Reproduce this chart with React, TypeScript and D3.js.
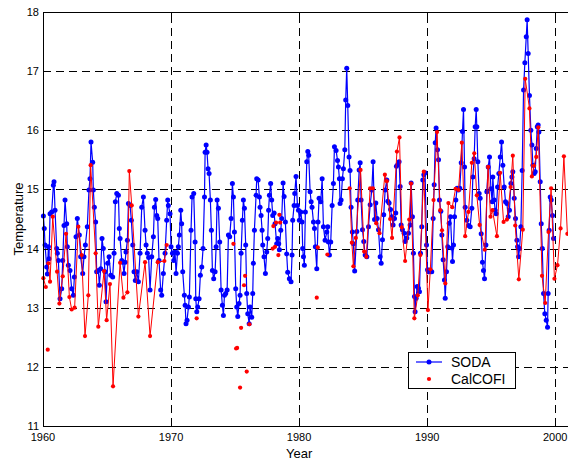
import React, { useEffect, useRef } from 'react';
import * as d3 from 'd3';

type Pt = [number, number];

// SODA model temperature, [year, degC]
const soda1960s: Pt[] = [
  [1960.03, 14.55], [1960.1, 14.34], [1960.16, 14.06], [1960.29, 13.69], [1960.34, 13.57], [1960.42, 14.03],
  [1960.47, 13.83], [1960.55, 14.59], [1960.68, 14.62], [1960.81, 15.07], [1960.86, 15.13], [1960.94, 14.65],
  [1961.07, 14.0], [1961.12, 13.92], [1961.2, 13.8], [1961.33, 13.15], [1961.46, 13.32], [1961.54, 13.8],
  [1961.64, 14.39], [1961.72, 14.82], [1961.85, 14.42], [1961.9, 14.03], [1961.98, 13.72], [1962.11, 13.63],
  [1962.24, 13.32], [1962.37, 13.21], [1962.45, 13.52], [1962.58, 14.2], [1962.68, 14.51], [1962.84, 14.23],
  [1962.94, 13.86], [1963.1, 13.58], [1963.2, 13.86], [1963.31, 14.06], [1963.46, 14.37], [1963.59, 14.99],
  [1963.67, 15.18], [1963.75, 15.8], [1963.88, 15.46], [1963.93, 14.99], [1964.01, 14.7], [1964.11, 14.45],
  [1964.19, 13.61], [1964.32, 13.63], [1964.4, 13.38], [1964.51, 13.66], [1964.61, 14.17], [1964.71, 14.0],
  [1964.84, 13.61], [1964.92, 13.1], [1965.05, 13.75], [1965.16, 13.86], [1965.29, 13.55], [1965.44, 13.52],
  [1965.55, 13.92], [1965.65, 14.79], [1965.76, 14.93], [1965.89, 14.9], [1965.96, 14.34], [1966.02, 14.17],
  [1966.15, 13.8], [1966.22, 13.77], [1966.33, 13.58], [1966.41, 13.77], [1966.48, 13.94], [1966.59, 14.14],
  [1966.67, 14.76], [1966.8, 14.73], [1966.9, 14.48], [1967.01, 14.06], [1967.11, 13.61], [1967.21, 13.46],
  [1967.32, 13.61], [1967.45, 13.44], [1967.58, 13.92], [1967.71, 14.7], [1967.84, 14.87], [1967.97, 14.31],
  [1968.05, 14.06], [1968.15, 13.92], [1968.25, 13.85], [1968.36, 13.3], [1968.49, 13.86], [1968.62, 14.2],
  [1968.7, 14.7], [1968.8, 14.83], [1968.88, 14.56], [1968.96, 14.51], [1969.06, 13.8], [1969.19, 13.3],
  [1969.27, 13.21], [1969.4, 13.58], [1969.53, 13.92], [1969.66, 14.48], [1969.74, 14.82], [1969.79, 14.73],
  [1969.92, 14.59],
];

const soda1970s: Pt[] = [
  [1970.0, 14.03], [1970.11, 13.92], [1970.21, 13.8], [1970.31, 13.94], [1970.39, 13.58], [1970.5, 13.92],
  [1970.57, 14.03], [1970.65, 14.23], [1970.76, 14.65], [1970.83, 14.42], [1970.91, 13.61], [1971.04, 13.21],
  [1971.1, 13.04], [1971.17, 12.73], [1971.25, 12.79], [1971.36, 13.01], [1971.43, 13.18], [1971.56, 14.31],
  [1971.64, 14.87], [1971.77, 14.93], [1971.88, 14.11], [1971.93, 13.15], [1972.01, 12.93], [1972.08, 13.01],
  [1972.19, 13.15], [1972.29, 13.55], [1972.4, 13.69], [1972.5, 14.0], [1972.61, 14.87], [1972.66, 15.63],
  [1972.74, 15.75], [1972.81, 15.63], [1972.89, 15.35], [1972.97, 15.27], [1973.07, 14.82], [1973.15, 14.31],
  [1973.23, 13.63], [1973.33, 13.49], [1973.44, 13.61], [1973.52, 14.03], [1973.6, 14.82], [1973.7, 14.68],
  [1973.8, 14.11], [1973.91, 13.3], [1974.01, 13.04], [1974.09, 12.87], [1974.17, 13.21], [1974.27, 13.24],
  [1974.38, 13.3], [1974.48, 14.23], [1974.58, 14.2], [1974.69, 14.51], [1974.79, 15.1], [1974.87, 14.87],
  [1974.95, 14.28], [1975.05, 13.32], [1975.13, 13.01], [1975.21, 12.85], [1975.31, 13.07], [1975.39, 13.21],
  [1975.47, 13.92], [1975.57, 14.48], [1975.65, 14.82], [1975.73, 14.68], [1975.83, 14.06], [1975.91, 13.24],
  [1975.99, 12.9], [1976.1, 12.73], [1976.17, 13.01], [1976.3, 12.84], [1976.38, 13.24], [1976.43, 13.75],
  [1976.51, 14.31], [1976.64, 14.9], [1976.69, 15.18], [1976.8, 15.16], [1976.9, 14.87], [1976.95, 14.7],
  [1977.03, 14.56], [1977.11, 14.31], [1977.16, 14.06], [1977.26, 13.86], [1977.37, 13.58], [1977.47, 13.94],
  [1977.55, 14.17], [1977.62, 14.65], [1977.68, 14.9], [1977.78, 15.1], [1977.86, 14.82], [1977.94, 14.56],
  [1978.05, 14.6], [1978.12, 14.42], [1978.25, 14.08], [1978.33, 14.17], [1978.41, 14.08], [1978.46, 13.98],
  [1978.57, 14.31], [1978.64, 14.51], [1978.75, 15.11], [1978.83, 14.88], [1978.93, 14.45], [1979.03, 13.91],
  [1979.11, 13.6], [1979.24, 13.49], [1979.37, 13.44], [1979.45, 13.89], [1979.5, 14.48], [1979.61, 14.73],
  [1979.66, 14.93], [1979.76, 15.22], [1979.87, 14.73], [1979.95, 14.65],
];

const soda1980s: Pt[] = [
  [1980.02, 14.48], [1980.13, 14.62], [1980.23, 14.45], [1980.28, 14.0], [1980.34, 13.86], [1980.41, 13.72],
  [1980.49, 14.62], [1980.6, 15.47], [1980.68, 15.64], [1980.75, 15.58], [1980.86, 14.96], [1980.94, 14.79],
  [1981.01, 14.7], [1981.12, 14.45], [1981.2, 14.34], [1981.27, 14.03], [1981.38, 13.66], [1981.48, 14.45],
  [1981.56, 14.85], [1981.69, 14.79], [1981.8, 15.18], [1981.9, 14.37], [1982.03, 14.14], [1982.16, 14.28],
  [1982.24, 14.37], [1982.29, 14.11], [1982.37, 13.89], [1982.47, 14.11], [1982.58, 14.73], [1982.68, 15.1],
  [1982.76, 15.72], [1982.89, 15.66], [1983.0, 15.49], [1983.07, 15.38], [1983.15, 15.18], [1983.2, 14.76],
  [1983.28, 14.82], [1983.38, 15.18], [1983.46, 15.35], [1983.57, 15.67], [1983.64, 16.51], [1983.72, 17.05],
  [1983.8, 16.42], [1983.9, 15.55], [1983.98, 15.32], [1984.06, 14.7], [1984.16, 14.28], [1984.24, 14.08],
  [1984.34, 13.62], [1984.51, 14.29], [1984.58, 14.82], [1984.69, 15.33], [1984.77, 15.45], [1984.84, 14.82],
  [1984.95, 14.32], [1985.05, 14.12], [1985.16, 13.89], [1985.29, 13.86], [1985.42, 14.37], [1985.55, 14.74],
  [1985.68, 14.99], [1985.78, 15.47], [1985.89, 14.49], [1985.99, 14.77], [1986.09, 14.51], [1986.2, 14.32],
  [1986.33, 13.86], [1986.41, 13.75], [1986.51, 14.15], [1986.61, 14.57], [1986.72, 14.99], [1986.85, 15.16],
  [1986.93, 14.8], [1987.03, 14.77], [1987.14, 14.66], [1987.24, 14.54], [1987.34, 14.4], [1987.45, 14.51],
  [1987.55, 14.6], [1987.6, 15.39], [1987.71, 15.42], [1987.81, 15.47], [1987.89, 15.05], [1987.97, 14.4],
  [1988.07, 14.32], [1988.2, 14.26], [1988.28, 14.12], [1988.41, 14.18], [1988.54, 14.26], [1988.67, 14.4],
  [1988.75, 15.11], [1988.85, 14.54], [1988.93, 13.92], [1989.01, 13.19], [1989.06, 12.93], [1989.14, 13.16],
  [1989.22, 13.36], [1989.32, 13.33], [1989.4, 13.27], [1989.48, 13.92], [1989.58, 14.37], [1989.66, 15.16],
  [1989.74, 15.25], [1989.84, 15.28], [1989.95, 14.06],
];

const soda1990s: Pt[] = [
  [1990.03, 13.64], [1990.1, 13.61], [1990.23, 13.61], [1990.36, 13.61], [1990.47, 14.51], [1990.55, 15.08],
  [1990.63, 15.79], [1990.7, 16.04], [1990.81, 15.67], [1990.89, 15.5], [1990.96, 14.82], [1991.07, 14.63],
  [1991.15, 14.23], [1991.25, 13.81], [1991.35, 13.47], [1991.41, 13.16], [1991.51, 13.61], [1991.61, 14.03],
  [1991.72, 14.43], [1991.82, 14.54], [1991.93, 14.01], [1991.98, 13.78], [1992.06, 14.06], [1992.14, 14.54],
  [1992.24, 14.82], [1992.34, 15.02], [1992.45, 14.99], [1992.55, 15.02], [1992.66, 15.45], [1992.76, 15.98],
  [1992.84, 16.35], [1992.92, 15.38], [1992.97, 14.7], [1993.1, 14.48], [1993.23, 14.39], [1993.36, 14.37],
  [1993.49, 14.68], [1993.57, 15.21], [1993.67, 15.52], [1993.75, 16.06], [1993.83, 16.35], [1993.88, 16.06],
  [1993.96, 15.47], [1994.06, 14.93], [1994.14, 14.85], [1994.22, 14.25], [1994.32, 13.77], [1994.4, 13.63],
  [1994.48, 13.49], [1994.59, 14.06], [1994.66, 14.96], [1994.77, 15.38], [1994.87, 15.55], [1994.98, 15.01],
  [1995.08, 14.79], [1995.13, 15.21], [1995.24, 14.82], [1995.31, 14.65], [1995.39, 14.59], [1995.5, 15.04],
  [1995.6, 15.27], [1995.71, 15.55], [1995.81, 15.8], [1995.91, 15.41], [1996.02, 15.04], [1996.12, 14.79],
  [1996.23, 14.76], [1996.33, 14.54], [1996.43, 14.65], [1996.54, 15.1], [1996.62, 15.21], [1996.69, 15.3],
  [1996.8, 14.85], [1996.9, 14.51], [1997.01, 14.14], [1997.06, 14.03], [1997.14, 13.86], [1997.22, 14.0],
  [1997.32, 14.37], [1997.42, 15.32], [1997.53, 16.68], [1997.63, 17.14], [1997.74, 17.58], [1997.81, 17.87],
  [1997.89, 17.3], [1997.99, 16.59], [1998.1, 16.0], [1998.18, 15.75], [1998.26, 15.41], [1998.36, 15.27],
  [1998.44, 15.3], [1998.52, 15.69], [1998.6, 16.06], [1998.67, 16.09], [1998.73, 15.97], [1998.83, 15.13],
  [1998.91, 14.42], [1998.99, 14.0], [1999.09, 13.24], [1999.19, 12.9], [1999.3, 12.79], [1999.4, 12.67],
  [1999.45, 13.24], [1999.53, 14.31], [1999.61, 14.87], [1999.69, 14.82], [1999.79, 14.56], [1999.87, 14.17],
];

// CalCOFI observations; null = gap in the record
const calcofi1960s: (Pt | null)[] = [
  [1960.03, 13.5], [1960.22, 13.35], null, [1960.37, 12.29], null,
  [1960.42, 13.75], [1960.55, 13.44], [1960.76, 14.54], [1961.1, 13.61], [1961.28, 13.07], [1961.54, 13.53],
  [1961.8, 14.25], [1962.06, 13.18], [1962.24, 12.97], [1962.47, 13.0], [1962.76, 14.37], [1963.02, 13.89],
  [1963.28, 12.52], [1963.54, 13.21], [1963.72, 15.41], [1964.11, 13.92], [1964.32, 12.68], [1964.77, 13.62],
  [1964.97, 12.79], [1965.23, 13.4], [1965.47, 11.67], [1966.02, 13.76], [1966.28, 13.17], [1966.59, 13.26],
  [1966.74, 15.31], [1966.93, 14.73], [1967.45, 12.85], [1967.97, 13.77], [1968.36, 12.52], [1968.96, 13.77],
  [1969.48, 13.79], [1969.66, 14.06],
];

const calcofiSparse: Pt[] = [
  [1972.0, 12.82], [1974.87, 14.08], [1975.08, 12.31], [1975.16, 12.32], [1975.39, 11.65], [1975.47, 12.66],
  [1975.7, 13.38], [1975.78, 13.54], [1975.91, 11.92], [1976.12, 12.72], [1977.94, 14.0], [1977.99, 14.38],
  [1978.12, 14.03], [1978.2, 14.44], [1978.38, 13.89], [1978.46, 14.57], [1978.52, 14.44], [1981.38, 13.17],
  [1981.46, 14.02], [1982.21, 13.9],
];

const calcofi1984on: Pt[] = [
  [1983.95, 15.02], [1984.12, 14.1], [1984.24, 13.7], [1984.43, 14.18], [1984.8, 15.33], [1985.08, 13.95],
  [1985.25, 13.86], [1985.55, 15.02], [1985.76, 15.02], [1986.02, 14.43], [1986.28, 14.26], [1986.7, 15.25],
  [1986.85, 15.14], [1987.11, 14.5], [1987.26, 14.18], [1987.64, 15.64], [1987.84, 15.88], [1988.02, 14.36],
  [1988.28, 13.79], [1988.6, 14.49], [1988.74, 15.1], [1989.0, 12.82], [1989.27, 13.21], [1989.47, 13.89],
  [1989.74, 15.3], [1990.06, 12.96], [1990.25, 13.65], [1990.5, 14.82], [1990.77, 15.97], [1991.02, 14.65],
  [1991.16, 14.31], [1991.42, 13.41], [1991.66, 14.77], [1991.96, 14.7], [1992.22, 15.01], [1992.45, 14.99],
  [1992.71, 15.79], [1992.97, 14.21], [1993.23, 14.62], [1993.49, 15.45], [1993.68, 15.61], [1993.88, 14.9],
  [1994.1, 14.4], [1994.5, 13.98], [1994.76, 15.38], [1994.95, 14.54], [1995.1, 14.65], [1995.45, 14.21],
  [1995.7, 15.28], [1995.97, 14.45], [1996.23, 14.49], [1996.52, 15.04], [1996.69, 15.57], [1996.88, 14.39],
  [1997.16, 13.48], [1997.47, 14.32], [1997.66, 16.87], [1997.99, 16.37], [1998.18, 15.22], [1998.35, 15.4],
  [1998.52, 15.55], [1998.68, 16.05], [1998.97, 13.54], [1999.22, 13.08], [1999.48, 14.28], [1999.68, 15.02],
  [1999.94, 13.49], [2000.18, 13.72], [2000.42, 14.34], [2000.68, 15.56], [2000.95, 14.25],
];

const yearTicks = [1960, 1970, 1980, 1990, 2000];
const tempTicks = [11, 12, 13, 14, 15, 16, 17, 18];
const legendNames = ['SODA', 'CalCOFI'];

const FONT = '"Liberation Sans", Arial, Helvetica, sans-serif';

function App() {
  const ref = useRef<SVGSVGElement>(null);

  useEffect(() => {
    const svg = d3.select(ref.current);
    const width = 568;
    const height = 464;
    svg.selectAll('*').remove();
    const margin = { top: 12, right: 0, bottom: 38, left: 43 };

    const x = d3.scaleLinear().domain([1960, 2001]).range([margin.left, width - margin.right]);
    const y = d3.scaleLinear().domain([11, 18]).range([height - margin.bottom, margin.top]);
    const [x0, x1] = x.range();
    const [y0, y1] = y.range();

    svg.append('rect').attr('width', width).attr('height', height).attr('fill', '#fff');

    // dashed grid
    const grid = svg.append('g').attr('stroke', '#000').attr('stroke-width', 1).attr('stroke-dasharray', '8,5');
    yearTicks.slice(1).forEach(t => {
      grid.append('line').attr('x1', Math.round(x(t)) + 0.5).attr('x2', Math.round(x(t)) + 0.5)
        .attr('y1', y0).attr('y2', y1);
    });
    tempTicks.slice(1, -1).forEach(t => {
      grid.append('line').attr('y1', Math.round(y(t)) + 0.5).attr('y2', Math.round(y(t)) + 0.5)
        .attr('x1', x0).attr('x2', x1);
    });

    const line = d3
      .line<Pt | null>()
      .defined(d => d !== null)
      .x(d => x((d as Pt)[0]))
      .y(d => y((d as Pt)[1]));

    const soda = [...soda1960s, ...soda1970s, ...soda1980s, ...soda1990s];

    svg.append('path').datum(soda).attr('fill', 'none').attr('stroke', '#0000ff')
      .attr('stroke-width', 1.2).attr('stroke-linejoin', 'round').attr('d', line);
    svg.append('g').attr('fill', '#0000ff').selectAll('circle').data(soda).join('circle')
      .attr('cx', d => x(d[0])).attr('cy', d => y(d[1])).attr('r', 2.5);

    const redParts: (Pt | null)[][] = [calcofi1960s, calcofi1984on];
    redParts.forEach(part => {
      svg.append('path').datum(part).attr('fill', 'none').attr('stroke', '#ff0000')
        .attr('stroke-width', 1).attr('stroke-linejoin', 'round').attr('d', line);
    });
    const redPts = [...calcofi1960s, ...calcofiSparse, ...calcofi1984on].filter(d => d !== null) as Pt[];
    svg.append('g').attr('fill', '#ff0000').selectAll('circle').data(redPts).join('circle')
      .attr('cx', d => x(d[0])).attr('cy', d => y(d[1])).attr('r', 2.1);

    // axes frame
    svg.append('rect').attr('x', x0 + 0.5).attr('y', y1 + 0.5).attr('width', x1 - x0)
      .attr('height', y0 - y1).attr('fill', 'none').attr('stroke', '#000').attr('stroke-width', 1);

    const ticks = svg.append('g').attr('stroke', '#000');
    yearTicks.forEach(t => {
      const px = Math.round(x(t)) + 0.5;
      ticks.append('line').attr('x1', px).attr('x2', px).attr('y1', y0).attr('y2', y0 - 5);
      ticks.append('line').attr('x1', px).attr('x2', px).attr('y1', y1).attr('y2', y1 + 5);
    });
    tempTicks.forEach(t => {
      const py = Math.round(y(t)) + 0.5;
      ticks.append('line').attr('x1', x0).attr('x2', x0 + 5).attr('y1', py).attr('y2', py);
    });

    const labels = svg.append('g').attr('font-family', FONT).attr('fill', '#000');
    yearTicks.forEach(t => {
      labels.append('text').attr('x', x(t)).attr('y', y0 + 15).attr('text-anchor', 'middle')
        .attr('font-size', 11).text(t);
    });
    tempTicks.forEach(t => {
      labels.append('text').attr('x', x0 - 4).attr('y', y(t) + 4).attr('text-anchor', 'end')
        .attr('font-size', 11).text(t);
    });
    labels.append('text').attr('x', x(1980)).attr('y', 458).attr('text-anchor', 'middle')
      .attr('font-size', 13).text('Year');
    labels.append('text').attr('transform', `translate(23,${(y0 + y1) / 2}) rotate(-90)`)
      .attr('text-anchor', 'middle').attr('font-size', 13).text('Temperature');

    // legend
    const lg = svg.append('g').attr('transform', 'translate(408,352)');
    lg.append('rect').attr('x', 0.5).attr('y', 0.5).attr('width', 107).attr('height', 36)
      .attr('fill', '#fff').attr('stroke', '#000');
    lg.append('line').attr('x1', 8).attr('x2', 34).attr('y1', 10).attr('y2', 10)
      .attr('stroke', '#0000ff').attr('stroke-width', 1.2);
    lg.append('circle').attr('cx', 21).attr('cy', 10).attr('r', 2.5).attr('fill', '#0000ff');
    lg.append('circle').attr('cx', 21).attr('cy', 27).attr('r', 2.1).attr('fill', '#ff0000');
    legendNames.forEach((name, i) => {
      lg.append('text').attr('x', 43).attr('y', 15 + i * 16.5).attr('font-family', FONT)
        .attr('font-size', 14).text(name);
    });
  });

  return (
    <div>
      <svg
        ref={ref}
        width="568"
        height="464"
        style={{ position: 'absolute', left: 0, top: 0, display: 'block' }}
      />
    </div>
  );
}

export default App;
